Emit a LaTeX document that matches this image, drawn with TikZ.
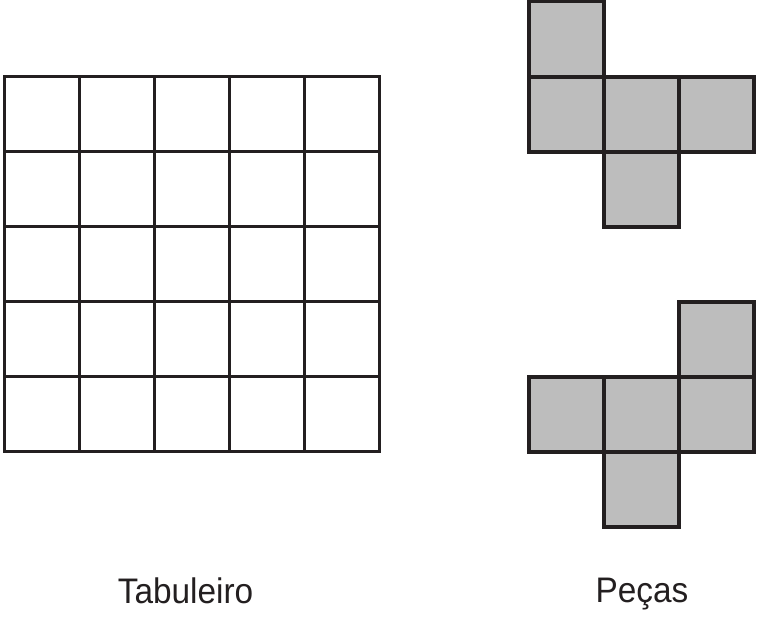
\documentclass[tikz,border=0pt]{standalone}
\usepackage{fontspec}
\newfontfamily\labfont[FakeStretch=0.94]{Liberation Sans}
\definecolor{ink}{HTML}{231F20}
\definecolor{piecegray}{HTML}{BDBDBD}
\begin{document}
\begin{tikzpicture}[x=1pt,y=-1pt,
  gridline/.style={draw=ink,line width=3.6pt,line cap=rect},
  cell/.style={draw=ink,fill=piecegray,line width=3.6pt},
  label/.style={font=\labfont\fontsize{35.5}{40}\selectfont,text=ink,anchor=base,inner sep=0pt}]
\useasboundingbox (0,0) rectangle (757,623);
% board
\foreach \i in {0,...,5} {
  \draw[gridline] (4.5+75*\i,76.5) -- (4.5+75*\i,451.5);
  \draw[gridline] (4.5,76.5+75*\i) -- (379.5,76.5+75*\i);
}
% piece 1
\foreach \cx/\cy in {529/1.5, 529/77, 604/77, 679/77, 604/152} {
  \draw[cell] (\cx,\cy) rectangle ++(75,75);
}
% piece 2
\foreach \cx/\cy in {679/302, 529/377, 604/377, 679/377, 604/452} {
  \draw[cell] (\cx,\cy) rectangle ++(75,75);
}
\node[label] (tab) at (185.5,603) {Tabuleiro};
\node[label] (pec) at (642,602) {Peças};
\end{tikzpicture}
\end{document}
